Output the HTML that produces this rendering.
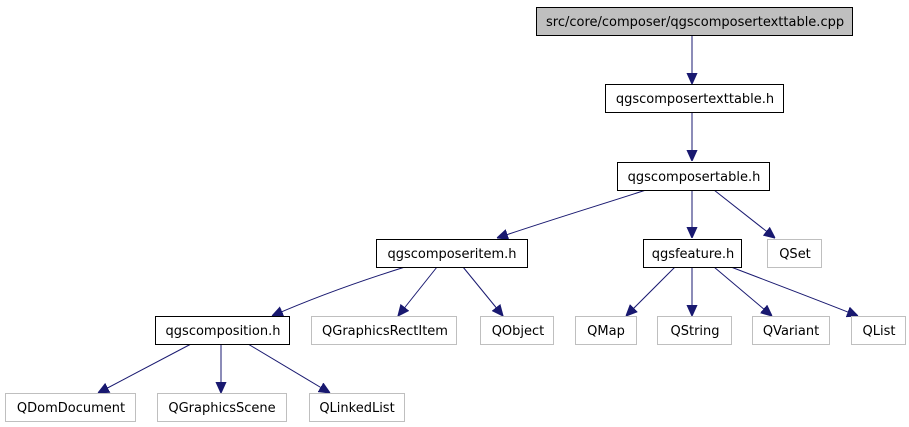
<!DOCTYPE html>
<html><head><meta charset="utf-8"><style>
html,body{margin:0;padding:0;background:#fff;}
svg{display:block;}
text{font-family:"DejaVu Sans","Liberation Sans",sans-serif;font-size:13px;fill:#000;}
</style></head><body>
<svg width="909" height="427" viewBox="0 0 909 427" xmlns="http://www.w3.org/2000/svg">
<defs>
<marker id="a" viewBox="0 0 10 10" refX="10" refY="5" markerWidth="11" markerHeight="11" markerUnits="userSpaceOnUse" orient="auto">
<path d="M0,0.5 L10,5 L0,9.5 z" fill="#191970" stroke="#191970"/>
</marker>
<clipPath id="c"><rect x="536" y="7" width="316" height="28"/></clipPath>
</defs>
<g stroke="#191970" stroke-width="1" fill="none" marker-end="url(#a)">
<line x1="692" y1="35" x2="692" y2="84"/>
<line x1="692" y1="112" x2="692" y2="161"/>
<path d="M646,190 C600,205 550,220 497,238"/>
<line x1="692" y1="190" x2="692" y2="238"/>
<line x1="714" y1="190" x2="775" y2="238"/>
<path d="M405,267 C370,278 320,295 272,316"/>
<line x1="437" y1="267" x2="398" y2="316"/>
<line x1="463" y1="267" x2="503" y2="316"/>
<line x1="675" y1="267" x2="626" y2="316"/>
<line x1="692" y1="267" x2="692" y2="316"/>
<line x1="714" y1="267" x2="772" y2="316"/>
<path d="M731,267 C770,282 810,297 858,316"/>
<line x1="191" y1="344" x2="98" y2="393"/>
<line x1="221" y1="344" x2="221" y2="393"/>
<line x1="248" y1="344" x2="330" y2="393"/>
</g>
<rect x="536.5" y="7.5" width="316" height="28" fill="#bfbfbf" stroke="#000"/>
<text x="546" y="26" clip-path="url(#c)">src/core/composer/qgscomposertexttable.cpp</text>
<g fill="#fff" stroke="#000">
<rect x="605.5" y="84.5" width="178" height="28"/>
<rect x="617.5" y="162.5" width="152" height="28"/>
<rect x="376.5" y="239.5" width="151" height="28"/>
<rect x="643.5" y="239.5" width="98" height="28"/>
<rect x="155.5" y="316.5" width="134" height="28"/>
</g>
<g fill="#fff" stroke="#bfbfbf">
<rect x="767.5" y="239.5" width="54" height="28"/>
<rect x="311.5" y="316.5" width="145" height="28"/>
<rect x="480.5" y="316.5" width="73" height="28"/>
<rect x="575.5" y="316.5" width="61" height="28"/>
<rect x="657.5" y="316.5" width="74" height="28"/>
<rect x="752.5" y="316.5" width="77" height="28"/>
<rect x="851.5" y="316.5" width="54" height="28"/>
<rect x="5.5" y="393.5" width="130" height="28"/>
<rect x="157.5" y="393.5" width="129" height="28"/>
<rect x="309.5" y="393.5" width="95" height="28"/>
</g>
<g text-anchor="middle">
<text x="695" y="103">qgscomposertexttable.h</text>
<text x="694" y="181">qgscomposertable.h</text>
<text x="452" y="258">qgscomposeritem.h</text>
<text x="693" y="258">qgsfeature.h</text>
<text x="795" y="258">QSet</text>
<text x="223" y="335">qgscomposition.h</text>
<text x="385" y="335">QGraphicsRectItem</text>
<text x="518" y="335">QObject</text>
<text x="606" y="335">QMap</text>
<text x="695" y="335">QString</text>
<text x="791" y="335">QVariant</text>
<text x="879" y="335">QList</text>
<text x="71" y="412">QDomDocument</text>
<text x="222" y="412">QGraphicsScene</text>
<text x="357" y="412">QLinkedList</text>
</g>
</svg>
</body></html>
